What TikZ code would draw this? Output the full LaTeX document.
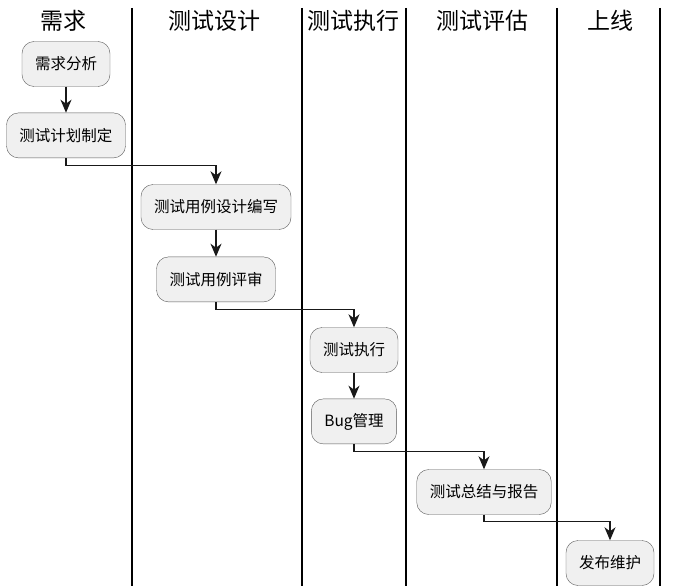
\documentclass[tikz,border=0pt]{standalone}
\usepackage{fontspec}
\setmainfont{Noto Sans CJK SC}
\usetikzlibrary{positioning,arrows.meta}

\begin{document}
\begin{tikzpicture}[x=1pt, y=-1pt, node distance=26pt, auto,
  act/.style={draw=gray!70!black, fill=gray!12, rounded corners=12pt, minimum height=45pt, inner xsep=13pt, font=\fontsize{15.5}{18}\selectfont},
  lanetitle/.style={font=\fontsize{23}{26}\selectfont},
  lane/.style={line width=1.6pt},
  flow/.style={-{Stealth[length=13pt,width=11pt,inset=4pt]}, line width=1.2pt, draw=black!90}]
\useasboundingbox (0,0) rectangle (678,586);

% swimlanes
\foreach \x in {132,302,406,557,660} \draw [lane] (\x,8) -- (\x,586);
\node [lanetitle] (t1) at (64,21) {需求};
\node [lanetitle] (t2) at (214,21) {测试设计};
\node [lanetitle] (t3) at (353,21) {测试执行};
\node [lanetitle] (t4) at (482,21) {测试评估};
\node [lanetitle] (t5) at (610,21) {上线};

% activities
\node [act] (req) at (66,64) {需求分析};
\node [act, below=of req] (plan) {测试计划制定};
\node [act] (design) at (216,207) {测试用例设计编写};
\node [act, below=27pt of design] (review) {测试用例评审};
\node [act] (exec) at (354,350) {测试执行};
\node [act, below=of exec] (bug) {Bug管理};
\node [act] (report) at (484,492) {测试总结与报告};
\node [act] (release) at (610,563) {发布维护};

\draw [flow] (req) -- (plan);
\draw [flow] (plan.south) -- ++(0,7) -| (design.north);
\draw [flow] (design) -- (review);
\draw [flow] (review.south) -- ++(0,7) -| (exec.north);
\draw [flow] (exec) -- (bug);
\draw [flow] (bug.south) -- ++(0,7) -| (report.north);
\draw [flow] (report.south) -- ++(0,7) -| (release.north);
\end{tikzpicture}
\end{document}
